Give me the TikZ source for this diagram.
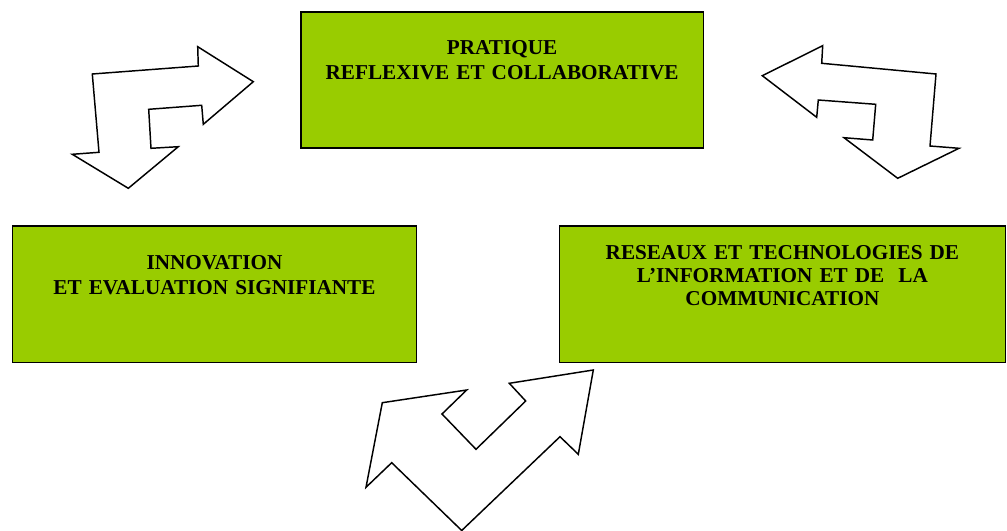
\documentclass[tikz,border=0pt]{standalone}
\usepackage{fontspec}
\setmainfont{Liberation Serif}
\usepackage{tikz}
\usetikzlibrary{positioning}
\definecolor{vertpomme}{HTML}{99CC00}

\begin{document}
\begin{tikzpicture}[x=0.75pt, y=-0.75pt, line join=miter]
            % 画布
            \useasboundingbox (0,0) rectangle (1007,531);
            % 方框(绿色)
            \node[draw, fill=vertpomme, line width=1.2pt, inner sep=0pt, anchor=north west, text width=302pt, align=center, text height=32.2pt, text depth=69.8pt, font=\bfseries\fontsize{15.9}{18.7}\selectfont] (Pratique) at (300,11) {PRATIQUE\\REFLEXIVE ET COLLABORATIVE};
            \node[draw, fill=vertpomme, line width=1.2pt, inner sep=0pt, anchor=north west, text width=303pt, align=center, text height=32.5pt, text depth=69.9pt, font=\bfseries\fontsize{15.9}{18.7}\selectfont] (Innovation) at (11.7,225) {INNOVATION\\ET EVALUATION SIGNIFIANTE};
            \node[draw, fill=vertpomme, line width=1.2pt, inner sep=0pt, text width=334.5pt, align=center, text height=25pt, text depth=77.4pt, font=\bfseries\fontsize{15.9}{17.3}\selectfont, right=106pt of Innovation] (Reseaux) {RESEAUX ET TECHNOLOGIES DE\\L’INFORMATION ET DE \ LA\\COMMUNICATION};
            % 双向箭头(白色)
            \draw[fill=white, line width=1.1pt] (92.3,74) -- (198.3,66) -- (197.7,46.7) -- (253.3,81.7) -- (203.3,124.3) -- (201.7,105.3) -- (148.7,109.3) -- (151,148.3) -- (178.3,146.7) -- (128.3,188.3) -- (72.3,154.3) -- (99,152.3) -- cycle;
            \draw[fill=white, line width=1.1pt] (762.3,75.7) -- (822.7,45.7) -- (821.7,63.3) -- (936,74) -- (930,146) -- (959,148.3) -- (897.7,178.3) -- (844,137.7) -- (872.7,140) -- (875.7,104.3) -- (818.3,100) -- (816.7,117.3) -- cycle;
            \draw[fill=white, line width=1.1pt] (382.3,402.7) -- (466.7,390) -- (442,414) -- (476,449.3) -- (525.7,401) -- (509.3,383.3) -- (593.3,370) -- (578.3,454.3) -- (560,436.7) -- (461.7,530.5) -- (391.7,462.7) -- (366,487.3) -- cycle;
        \end{tikzpicture}
\end{document}
